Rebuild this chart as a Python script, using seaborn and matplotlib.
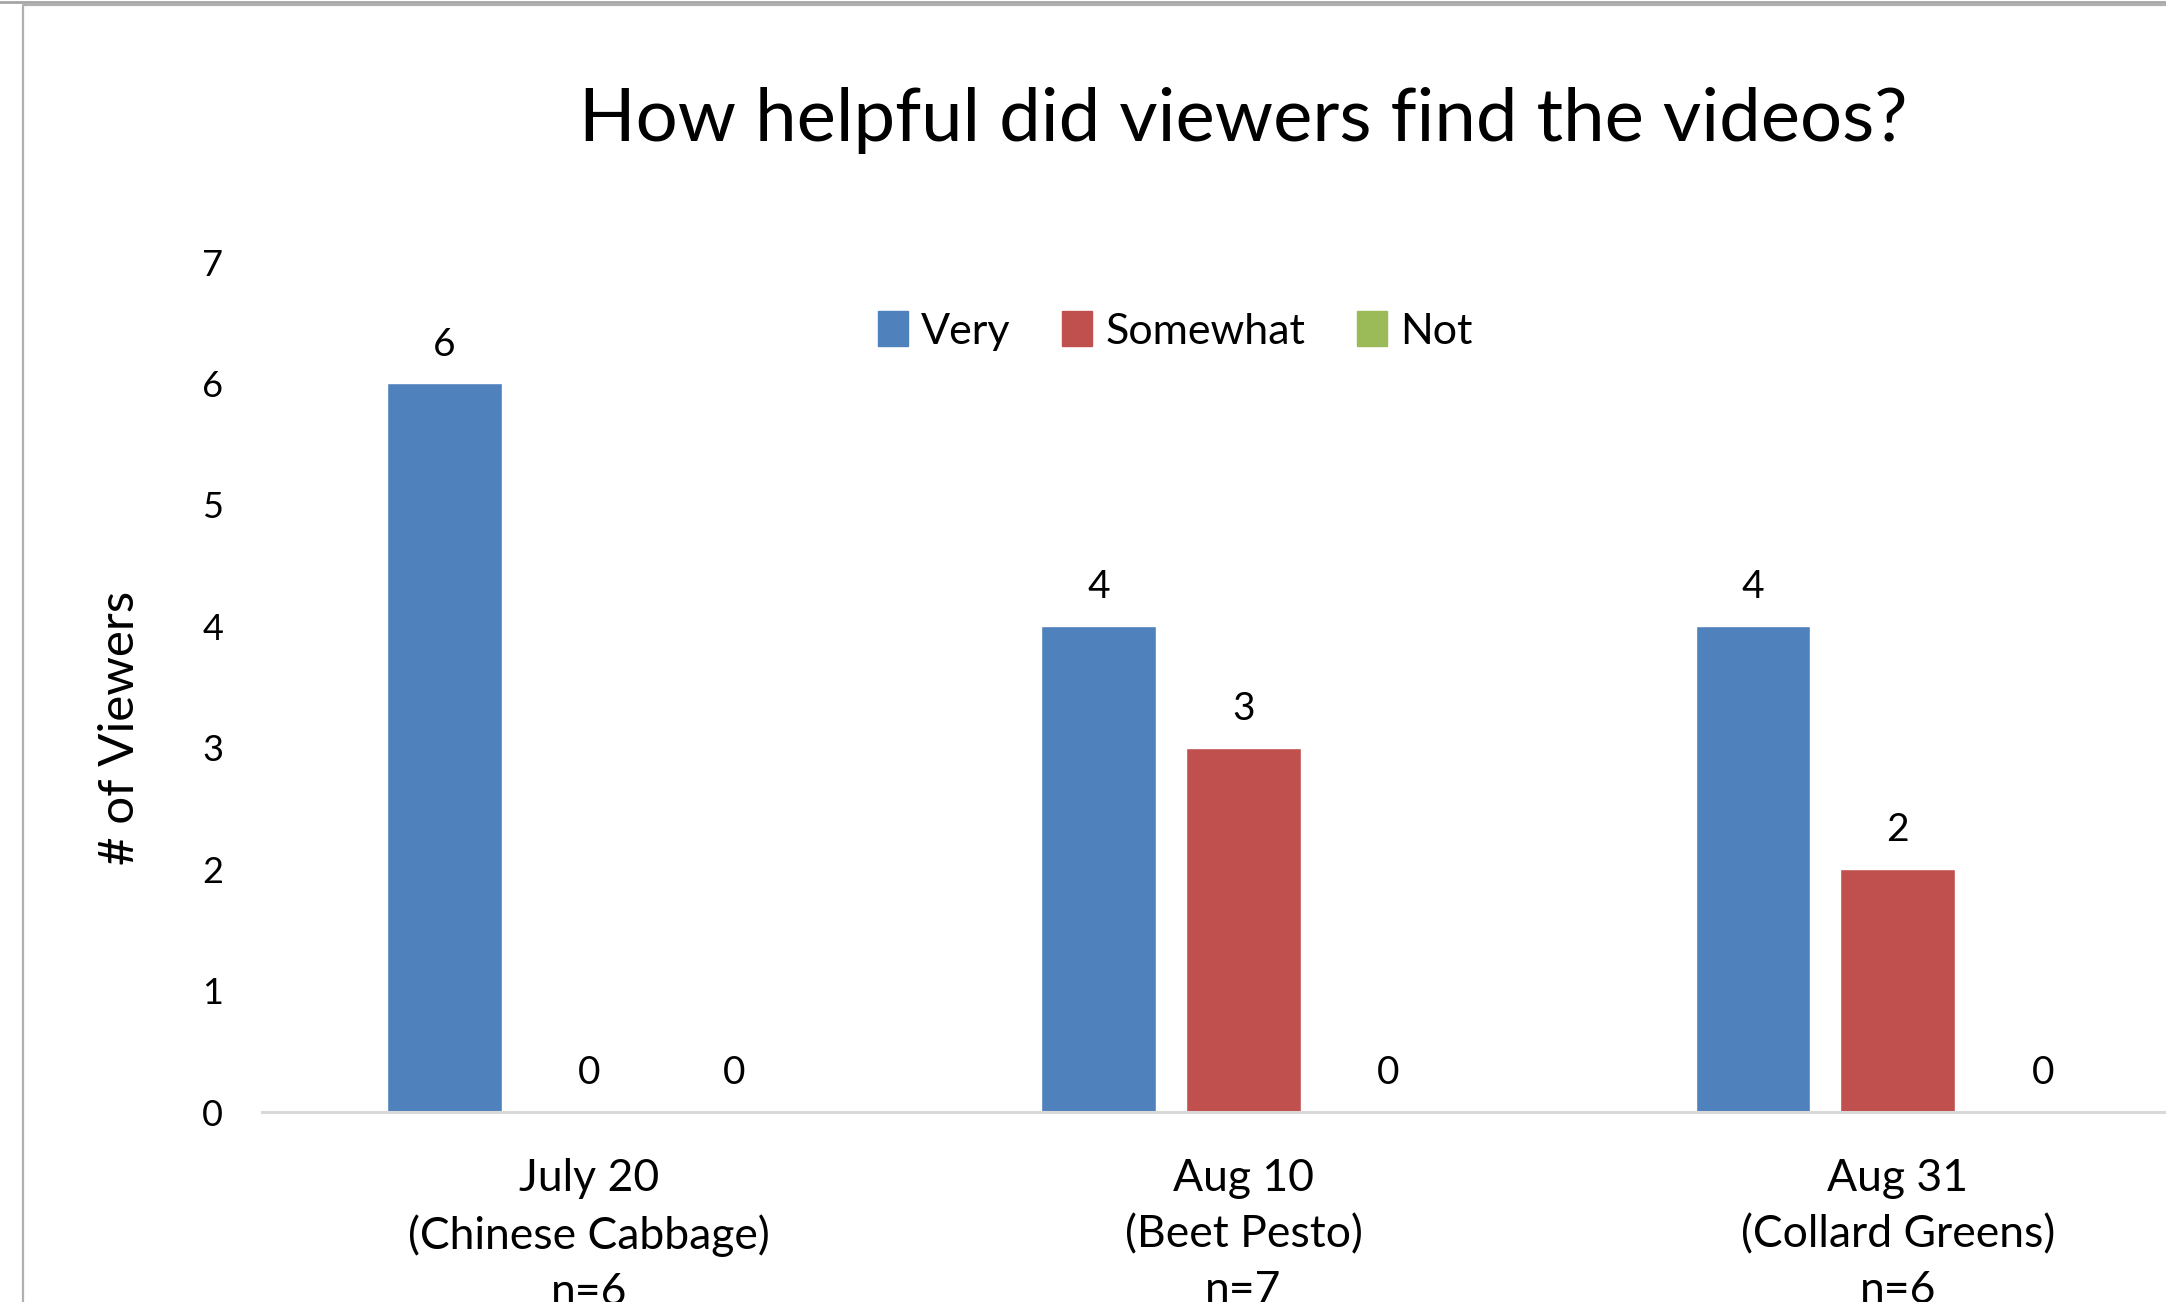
import matplotlib
matplotlib.use("Agg")
import matplotlib.pyplot as plt
import matplotlib.patches as mpatches
import seaborn as sns
import pandas as pd

# ---- data ----
sessions = ["July 20\n(Chinese Cabbage)\nn=6", "Aug 10\n(Beet Pesto)\nn=7", "Aug 31\n(Collard Greens)\nn=6"]
ratings = ["Very", "Somewhat", "Not"]
very = [6, 4, 4]
somewhat = [0, 3, 2]
not_helpful = [0, 0, 0]
colors = ["#4F81BD", "#C0504D", "#9BBB59"]
title = "How helpful did viewers find the videos?"
ylabel = "# of Viewers"
yticks = [0, 1, 2, 3, 4, 5, 6, 7]

rows = []
for s, v, sw, n in zip(sessions, very, somewhat, not_helpful):
    rows.append((s, "Very", v))
    rows.append((s, "Somewhat", sw))
    rows.append((s, "Not", n))
df = pd.DataFrame(rows, columns=["session", "rating", "count"])

sns.set_theme(style="white")
plt.rcParams["font.family"] = ["Lato", "DejaVu Sans"]
plt.rcParams["text.color"] = "black"
plt.rcParams["axes.labelcolor"] = "black"
plt.rcParams["xtick.color"] = "black"
plt.rcParams["ytick.color"] = "black"

W, H = 2166, 1302
fig = plt.figure(figsize=(W / 100, H / 100), dpi=100)
fig.patch.set_facecolor("white")

# chart frame (Excel style border, cropped)
fig.add_artist(plt.Line2D([0, 1], [1 - 1.5 / H, 1 - 1.5 / H], transform=fig.transFigure,
                          color="#A6A6A6", lw=2))
fig.add_artist(plt.Line2D([22.5 / W, 22.5 / W, 1], [0, 1 - 5 / H, 1 - 5 / H], transform=fig.transFigure,
                          color="#B0B0B0", lw=1.6))

ax = fig.add_axes([262 / W, 190 / H, (2225 - 262) / W, 850 / H])

sns.barplot(data=df, x="session", y="count", hue="rating", hue_order=ratings,
            palette=colors, saturation=1, width=0.664, gap=0.207, ax=ax,
            legend=False)

for cont in ax.containers:
    ax.bar_label(cont, fmt="%d", padding=15, fontsize=28, color="black")

ax.set_xlim(-0.5, 2.5)
ax.set_ylim(0, 7)
ax.set_yticks(yticks)
ax.set_yticklabels([str(t) for t in yticks], fontsize=26)
ax.tick_params(axis="y", length=0, pad=28)
ax.tick_params(axis="x", length=0, pad=33, labelsize=32)
for lab in ax.get_xticklabels():
    lab.set_linespacing(1.45)

for s in ["top", "right", "left"]:
    ax.spines[s].set_visible(False)
ax.spines["bottom"].set_color("#D9D9D9")
ax.spines["bottom"].set_linewidth(2.2)
ax.grid(False)

ax.set_xlabel("")
ax.set_ylabel(ylabel, fontsize=35.5, va="center")
ax.yaxis.set_label_coords((120 - 262) / 1963, (1112 - 728) / 850)

ax.set_title(title, fontsize=53.5, y=1 + 142 / 850, va="center", pad=0, color="black")

handles = [mpatches.Patch(color=c, label=r) for c, r in zip(colors, ratings)]
ax.legend(handles=handles, loc="center", bbox_to_anchor=((1175 - 262) / 1963, (1112 - 331) / 850),
          ncol=3, frameon=False, fontsize=31, handlelength=0.7, handleheight=0.85,
          handletextpad=0.3, columnspacing=1.2)

fig.savefig("out.png", dpi=100, facecolor="white")
